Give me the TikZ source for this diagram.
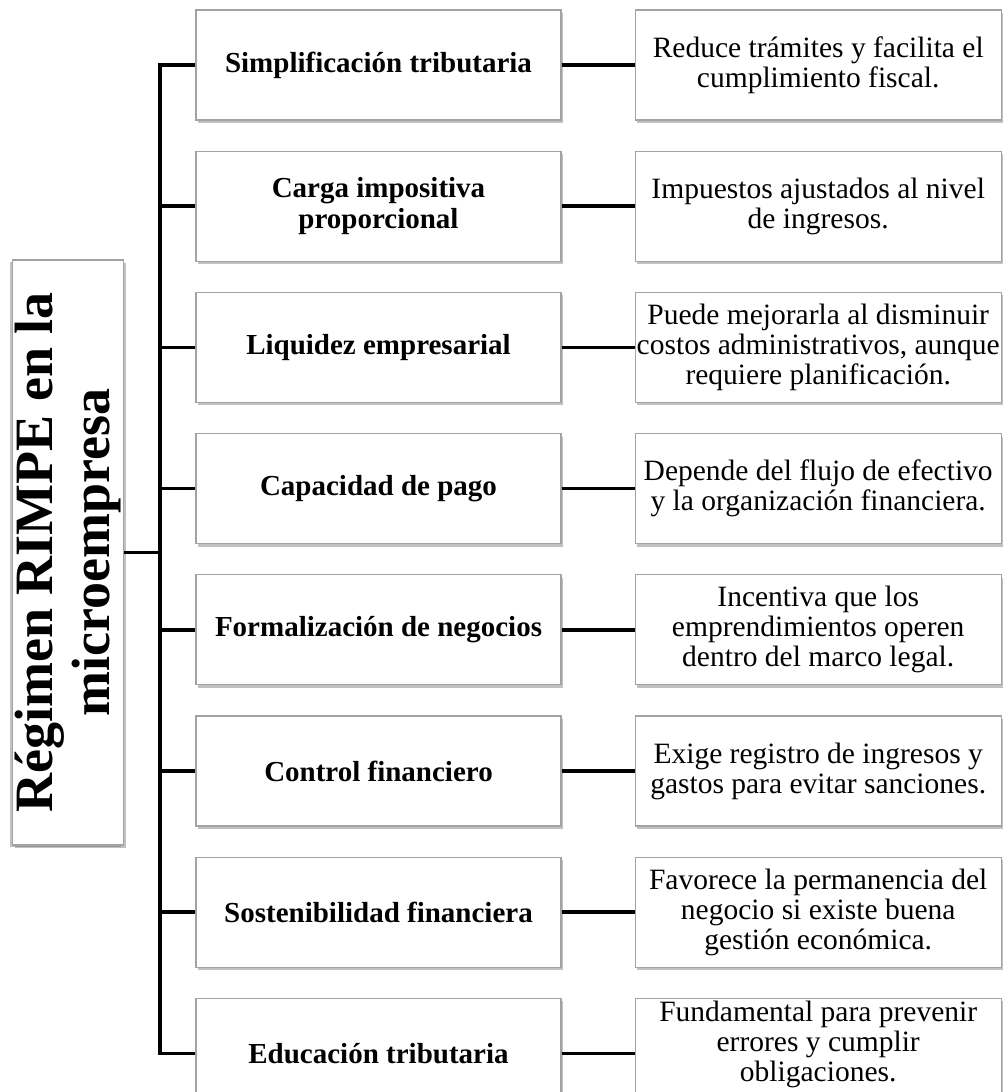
\documentclass[tikz,border=0pt]{standalone}
\usepackage{fontspec}
\setmainfont{Liberation Serif}
\usepackage{tikz}
\usetikzlibrary{positioning}
\usetikzlibrary{shadows}
\definecolor{boxgray}{HTML}{A3A3A3}
\tikzset{card/.style={draw=boxgray, line width=1.2pt, fill=white, align=center, inner xsep=0pt, inner ysep=2pt,
    drop shadow={shadow xshift=2pt, shadow yshift=-3pt, opacity=0.35, fill=black!70}}}
\tikzset{topic/.style={card, minimum width=365pt, minimum height=110pt, font=\fontsize{29}{31}\selectfont\bfseries}}
\tikzset{detail/.style={card, minimum width=366pt, minimum height=110pt, font=\fontsize{29.5}{30}\selectfont}}
\tikzset{conn/.style={line width=3.5pt, black}}

\begin{document}
\begin{tikzpicture}[x=1pt, y=-1pt, node distance=30pt and 73pt]
\useasboundingbox (0,0) rectangle (1003,1092);
\node[card, rotate=90, minimum width=585pt, minimum height=111pt,
  font=\fontsize{54}{57}\selectfont\bfseries,
  drop shadow={shadow xshift=-3pt, shadow yshift=-2pt, opacity=0.35, fill=black!70}]
  (rimpe) at (68,552.5) {Régimen RIMPE en la\\microempresa};

\node[topic] (m1) at (378.5,65) {Simplificación tributaria};
\node[topic, below=of m1] (m2) {Carga impositiva\\proporcional};
\node[topic, below=of m2] (m3) {Liquidez empresarial};
\node[topic, below=of m3] (m4) {Capacidad de pago};
\node[topic, below=of m4] (m5) {Formalización de negocios};
\node[topic, below=of m5] (m6) {Control financiero};
\node[topic, below=of m6] (m7) {Sostenibilidad financiera};
\node[topic, below=of m7] (m8) {Educación tributaria};

\node[detail, right=of m1] (d1) {Reduce trámites y facilita el\\cumplimiento fiscal.};
\node[detail, right=of m2] (d2) {Impuestos ajustados al nivel\\de ingresos.};
\node[detail, right=of m3] (d3) {Puede mejorarla al disminuir\\costos administrativos, aunque\\requiere planificación.};
\node[detail, right=of m4] (d4) {Depende del flujo de efectivo\\y la organización financiera.};
\node[detail, right=of m5] (d5) {Incentiva que los\\emprendimientos operen\\dentro del marco legal.};
\node[detail, right=of m6] (d6) {Exige registro de ingresos y\\gastos para evitar sanciones.};
\node[detail, right=of m7] (d7) {Favorece la permanencia del\\negocio si existe buena\\gestión económica.};
\node[detail, right=of m8, text depth=24pt] (d8) {Fundamental para prevenir\\errores y cumplir\\obligaciones.};

% trunk
\coordinate (tk) at (160,0);
\draw[conn] (m1.west) -- (m1.west -| tk) -- (m8.west -| tk) -- (m8.west);
\draw[conn] (rimpe.south) -- (rimpe.south -| tk);
\draw[conn] (m2.west) -- (m2.west -| tk);
\draw[conn] (m3.west) -- (m3.west -| tk);
\draw[conn] (m4.west) -- (m4.west -| tk);
\draw[conn] (m5.west) -- (m5.west -| tk);
\draw[conn] (m6.west) -- (m6.west -| tk);
\draw[conn] (m7.west) -- (m7.west -| tk);

\draw[conn] (m1) -- (d1);
\draw[conn] (m2) -- (d2);
\draw[conn] (m3) -- (d3);
\draw[conn] (m4) -- (d4);
\draw[conn] (m5) -- (d5);
\draw[conn] (m6) -- (d6);
\draw[conn] (m7) -- (d7);
\draw[conn] (m8) -- (d8);
\end{tikzpicture}
\end{document}
